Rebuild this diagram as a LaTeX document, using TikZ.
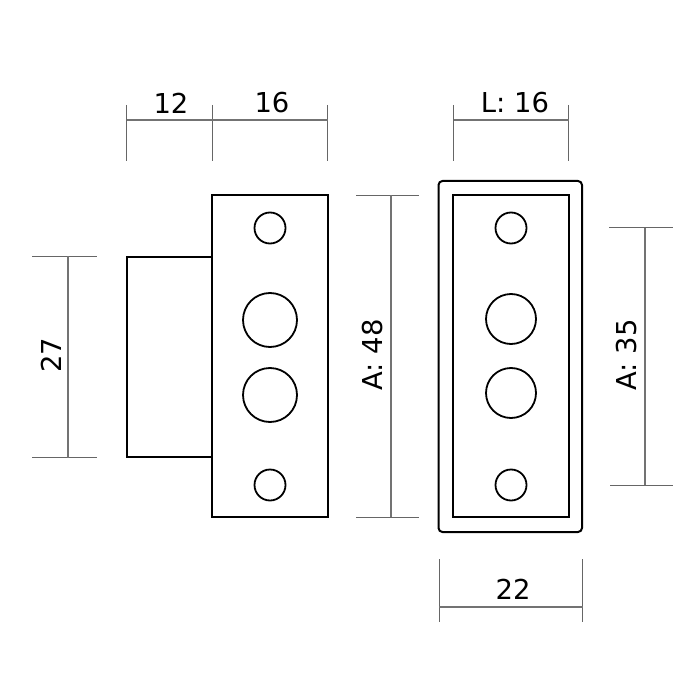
\documentclass[tikz,border=0pt]{standalone}
\usepackage{fontspec}
\setmainfont{DejaVu Sans}
\tikzset{
  part/.style={draw=black,line width=2pt,fill=none,inner sep=0pt,outer sep=0pt},
  hole/.style={circle,draw=black,line width=1.8pt,minimum size=#1,inner sep=0pt,outer sep=0pt},
  dimline/.style={draw=black!55,line width=1.2pt},
  extline/.style={draw=black!60,line width=1pt},
  dimtext/.style={font=\fontsize{27.4}{30}\selectfont,text=black,inner sep=0pt}
}
\begin{document}
\begin{tikzpicture}[x=1pt,y=-1pt]
\useasboundingbox (0,0) rectangle (700,700);
% left view
\draw[part] (212,257) -- (126.5,257) -- (126.5,457) -- (212,457);
\draw[part] (212,195.5) rectangle (328,517);
\node[hole=31pt] (h1) at (270,228) {};
\node[hole=54pt] (h2) at (270,320) {};
\node[hole=54pt] (h3) at (270,395) {};
\node[hole=31pt] (h4) at (270,485) {};
% right view
\draw[part,rounded corners=4pt] (438.5,181) rectangle (582,532);
\draw[part] (453,195.5) rectangle (568.5,517);
\node[hole=31pt] (k1) at (511,228) {};
\node[hole=50pt] (k2) at (511,319) {};
\node[hole=50pt] (k3) at (511,393) {};
\node[hole=31pt] (k4) at (511,485) {};
% dimension 12 and 16
\coordinate (a1) at (126.5,105); \coordinate (a2) at (126.5,161);
\coordinate (b1) at (212.5,105); \coordinate (b2) at (212.5,161);
\coordinate (c1) at (327.5,105); \coordinate (c2) at (327.5,161);
\coordinate (am) at (126.5,120); \coordinate (bm) at (212.5,120); \coordinate (cm) at (327.5,120);
\draw[extline] (a1) -- (a2);
\draw[extline] (b1) -- (b2);
\draw[extline] (c1) -- (c2);
\draw[dimline] (am) -- (bm);
\draw[dimline] (bm) -- (cm);
\node[dimtext] (t12) at (171,103) {12};
\node[dimtext] (t16) at (272,103) {16};
% L: 16
\coordinate (d1) at (453.5,105); \coordinate (d2) at (453.5,161);
\coordinate (e1) at (568.5,105); \coordinate (e2) at (568.5,161);
\coordinate (dm) at (453.5,120); \coordinate (em) at (568.5,120);
\draw[extline] (d1) -- (d2);
\draw[extline] (e1) -- (e2);
\draw[dimline] (dm) -- (em);
\node[dimtext] (tL) at (515,103) {L: 16};
% 22
\coordinate (f1) at (439,559); \coordinate (f2) at (439,622);
\coordinate (g1) at (582.5,559); \coordinate (g2) at (582.5,622);
\coordinate (fm) at (439,607); \coordinate (gm) at (582.5,607);
\draw[extline] (f1) -- (f2);
\draw[extline] (g1) -- (g2);
\draw[dimline] (fm) -- (gm);
\node[dimtext] (t22) at (513,589) {22};
% 27
\coordinate (p1) at (32,256); \coordinate (p2) at (97,256);
\coordinate (q1) at (32,457.5); \coordinate (q2) at (97,457.5);
\coordinate (pm) at (68,256); \coordinate (qm) at (68,457.5);
\draw[extline] (p1) -- (p2);
\draw[extline] (q1) -- (q2);
\draw[dimline] (pm) -- (qm);
\node[dimtext,rotate=90] (t27) at (51,355) {27};
% A: 48
\coordinate (r1) at (356,195.5); \coordinate (r2) at (419,195.5);
\coordinate (s1) at (356,517); \coordinate (s2) at (419,517);
\coordinate (rm) at (391,195.5); \coordinate (sm) at (391,517);
\draw[extline] (r1) -- (r2);
\draw[extline] (s1) -- (s2);
\draw[dimline] (rm) -- (sm);
\node[dimtext,rotate=90] (t48) at (373,355) {A: 48};
% A: 35
\coordinate (u1) at (609,228); \coordinate (u2) at (673,228);
\coordinate (v1) at (610,485); \coordinate (v2) at (673,485);
\coordinate (um) at (645,228); \coordinate (vm) at (645,485);
\draw[extline] (u1) -- (u2);
\draw[extline] (v1) -- (v2);
\draw[dimline] (um) -- (vm);
\node[dimtext,rotate=90] (t35) at (627,355) {A: 35};
\end{tikzpicture}
\end{document}
